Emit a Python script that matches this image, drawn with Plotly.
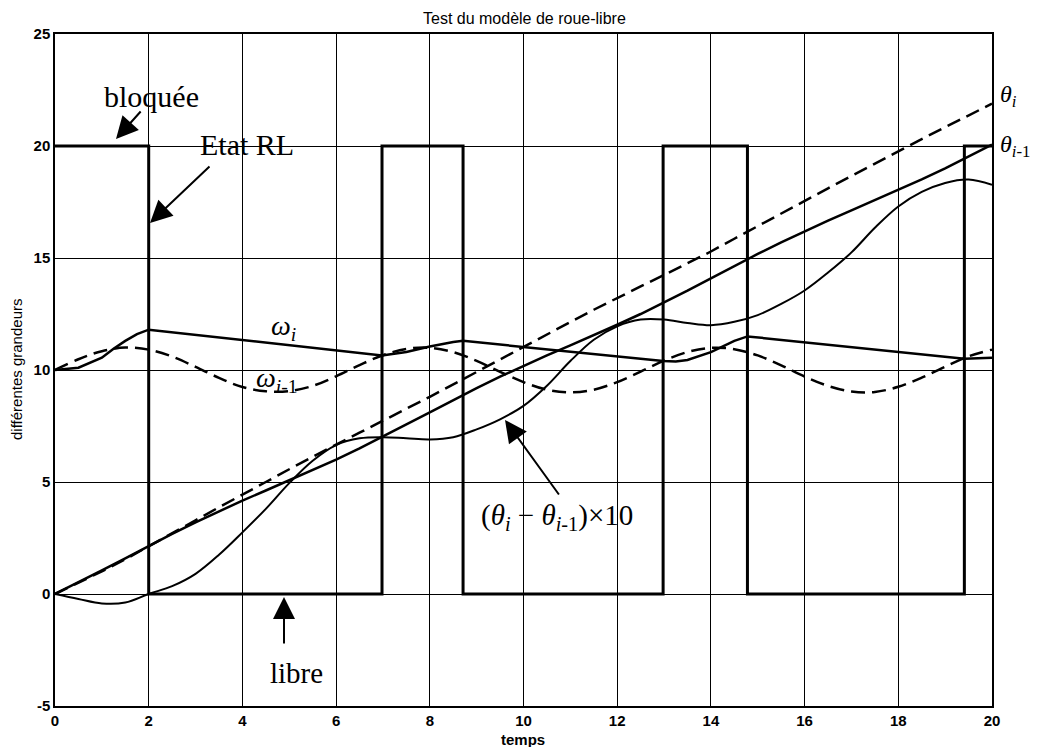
import plotly.graph_objects as go

# ---------------- data ----------------
t = [0, 0.5, 1, 1.5, 2, 2.5, 3, 3.5, 4, 4.5, 5, 5.5, 6, 6.5, 7, 7.5, 8, 8.5, 9, 9.5,
     10, 10.5, 11, 11.5, 12, 12.5, 13, 13.5, 14, 14.5, 15, 15.5, 16, 16.5, 17, 17.5,
     18, 18.5, 19, 19.5, 20]

theta_prev = [0.00, 0.51, 1.05, 1.59, 2.14, 2.68, 3.20, 3.69, 4.17, 4.62, 5.07, 5.53,
              6.00, 6.50, 7.02, 7.57, 8.11, 8.66, 9.19, 9.70, 10.18, 10.65, 11.10,
              11.55, 12.02, 12.50, 13.01, 13.54, 14.09, 14.64, 15.18, 15.70, 16.20,
              16.67, 17.13, 17.58, 18.03, 18.51, 19.00, 19.52, 20.06]

theta_i = [0.00, 0.49, 1.01, 1.55, 2.14, 2.72, 3.29, 3.87, 4.45, 5.00, 5.57, 6.13,
           6.67, 7.20, 7.72, 8.27, 8.80, 9.36, 9.93, 10.48, 11.02, 11.58, 12.14,
           12.69, 13.22, 13.73, 14.24, 14.75, 15.29, 15.86, 16.43, 17.00, 17.56,
           18.11, 18.66, 19.22, 19.76, 20.31, 20.84, 21.37, 21.89]

diff_x10 = [0.00, -0.22, -0.42, -0.38, 0.00, 0.35, 0.90, 1.75, 2.75, 3.80, 4.95, 5.95,
            6.65, 6.95, 7.00, 6.95, 6.90, 7.00, 7.35, 7.80, 8.40, 9.30, 10.40, 11.35,
            11.95, 12.25, 12.25, 12.10, 12.00, 12.15, 12.45, 12.95, 13.55, 14.35,
            15.25, 16.35, 17.30, 17.95, 18.35, 18.50, 18.27]

omega_prev = [10.00, 10.48, 10.84, 11.00, 10.91, 10.60, 10.14, 9.65, 9.24, 9.05, 9.06,
              9.29, 9.72, 10.22, 10.66, 10.94, 10.99, 10.80, 10.41, 9.92, 9.46, 9.12,
              9.00, 9.12, 9.46, 9.93, 10.42, 10.80, 10.99, 10.93, 10.65, 10.21, 9.71,
              9.29, 9.04, 9.02, 9.25, 9.66, 10.15, 10.61, 10.91]

omega_i_t = [0, 0.5, 1.0, 1.25, 1.5, 1.75, 2.0, 6.98, 7.5, 8.0, 8.5, 8.71,
             12.98, 13.25, 13.5, 14.0, 14.5, 14.78, 19.41, 20]
omega_i = [10.0, 10.1, 10.55, 10.95, 11.3, 11.6, 11.8, 10.65, 10.8, 11.05, 11.25, 11.3,
           10.4, 10.38, 10.45, 10.8, 11.3, 11.5, 10.5, 10.55]

state_t = [0, 2.0, 6.98, 8.71, 12.98, 14.78, 19.41, 20]
state = [20, 0, 20, 0, 20, 0, 20, 20]

x_ticks = [0, 2, 4, 6, 8, 10, 12, 14, 16, 18, 20]
y_ticks = [-5, 0, 5, 10, 15, 20, 25]

# ---------------- figure ----------------
W, H = 1038, 747
OFF = 8                     # page body margin of the html page
L, T = 55, 34               # plot area in page pixels
PW, PH = 937, 672

def px(x):
    return (x - L) / PW

def py(y):
    return (T + PH - y) / PH

SERIF = "Liberation Serif, Times New Roman, serif"
SANS = "Liberation Sans, Arial, sans-serif"
DASH = "14px,7px"

fig = go.Figure()
fig.add_trace(go.Scatter(x=state_t, y=state, mode="lines", line_shape="hv",
                         line=dict(color="black", width=3)))
fig.add_trace(go.Scatter(x=t, y=theta_prev, mode="lines",
                         line=dict(color="black", width=2.5)))
fig.add_trace(go.Scatter(x=t, y=theta_i, mode="lines",
                         line=dict(color="black", width=2.5, dash=DASH)))
fig.add_trace(go.Scatter(x=t, y=diff_x10, mode="lines", line_shape="spline",
                         line=dict(color="black", width=2)))
fig.add_trace(go.Scatter(x=t, y=omega_prev, mode="lines", line_shape="spline",
                         line=dict(color="black", width=2.5, dash=DASH)))
fig.add_trace(go.Scatter(x=omega_i_t, y=omega_i, mode="lines",
                         line=dict(color="black", width=2.5)))

ann = []

def text(x, y, s, size=29, font=SERIF, xanchor="center", yanchor="middle", angle=0,
         weight="normal"):
    ann.append(dict(x=px(x), y=py(y), xref="paper", yref="paper", text=s,
                    showarrow=False, xanchor=xanchor, yanchor=yanchor, textangle=angle,
                    borderpad=0,
                    font=dict(family=font, size=size, color="black", weight=weight)))

def arrow(tipx, tipy, tailx, taily):
    ann.append(dict(x=px(tipx), y=py(tipy), xref="paper", yref="paper", text="",
                    showarrow=True, ax=tailx - tipx, ay=taily - tipy,
                    arrowhead=2, arrowsize=2.2, arrowwidth=2, arrowcolor="black"))

text(524, 18, "Test du modèle de roue-libre", size=16, font=SANS)
text(523, 739, "temps", size=15, font=SANS, weight="bold")
text(16, 370, "différentes grandeurs", size=15, font=SANS, angle=-90)

text(151, 96, "bloquée", size=30)
arrow(116, 139, 142, 110)
text(247, 144, "Etat RL", size=30)
arrow(150, 223, 211, 165)
text(283, 327, "<i>ω<sub>i</sub></i>", size=28)
text(277, 380, "<i>ω</i><sub><i>i</i>-1</sub>", size=28)
text(557, 517, "(<i>θ</i><sub><i>i</i></sub> − <i>θ</i><sub><i>i</i>-1</sub>)×10", size=29)
arrow(505, 420, 560, 496)
text(296, 673, "libre", size=29)
arrow(284, 597, 284, 645)
text(999, 96, "<i>θ</i><sub><i>i</i></sub>", xanchor="left", size=24)
text(999, 146, "<i>θ</i><sub><i>i</i>-1</sub>", xanchor="left", size=24)

axis_common = dict(showgrid=True, gridcolor="black", gridwidth=1, zeroline=False,
                   showline=True, linecolor="black", linewidth=1.5, mirror=True,
                   ticks="", tickfont=dict(family=SANS, size=15, color="black",
                                           weight="bold"))

fig.update_layout(
    width=W, height=H,
    margin=dict(l=L - OFF, t=T - OFF, r=W - (L + PW) + OFF, b=H - (T + PH) + OFF),
    paper_bgcolor="white", plot_bgcolor="white",
    showlegend=False,
    annotations=ann,
    xaxis=dict(range=[0, 20], tickvals=x_ticks, ticktext=[str(v) for v in x_ticks],
               **axis_common),
    yaxis=dict(range=[-5, 25], tickvals=y_ticks, ticktext=[str(v) for v in y_ticks],
               **axis_common),
)

fig.write_html("out.html")
